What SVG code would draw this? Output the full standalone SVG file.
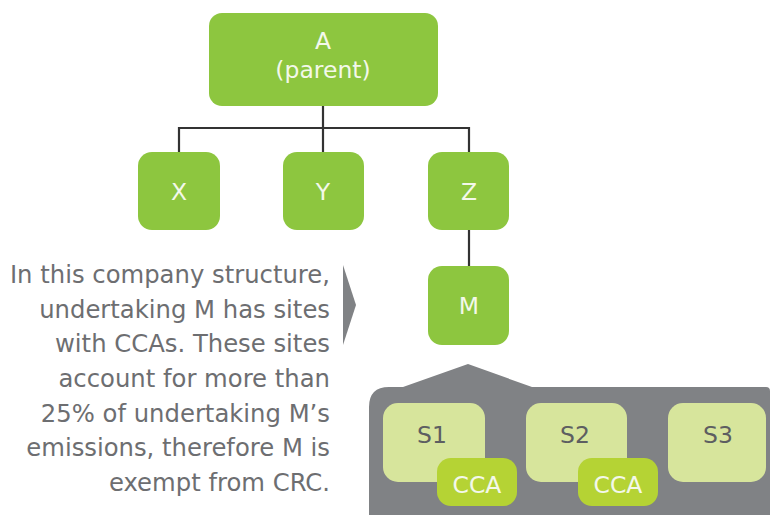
<svg xmlns="http://www.w3.org/2000/svg" width="770" height="515" viewBox="0 0 770 515">
  <style>
    .node { fill: #8dc63f; }
    .site { fill: #d7e59c; }
    .cca { fill: #b5d334; }
    .lbl { font-family: "DejaVu Sans", "Liberation Sans", sans-serif; font-size: 23.5px; text-anchor: middle; fill: #f3f8ea; }
    .slbl { font-family: "DejaVu Sans", "Liberation Sans", sans-serif; font-size: 23.5px; text-anchor: middle; fill: #5d5e61; }
    .para { font-family: "DejaVu Sans", "Liberation Sans", sans-serif; font-size: 24.3px; text-anchor: end; fill: #6d6e71; }
    .conn { stroke: #333333; stroke-width: 2.2; fill: none; }
  </style>
  <rect width="770" height="515" fill="#ffffff"/>

  <g id="connectors">
    <path class="conn" d="M323 106 V128 M179 128 H469 M179 127 V152 M323 128 V152 M469 127 V152 M469 230 V266"/>
  </g>

  <g id="panel">
    <path d="M369 407 Q369 387 389 387 H403 L468 364 L532 387 H766 Q770 387 770 391 V515 H369 Z" fill="#808285"/>
  </g>

  <g id="node-A">
    <rect class="node" x="209" y="13" width="229" height="93" rx="13"/>
    <text class="lbl" x="323" y="49">A</text>
    <text class="lbl" x="323" y="78">(parent)</text>
  </g>
  <g id="node-X">
    <rect class="node" x="138" y="152" width="82" height="78" rx="14"/>
    <text class="lbl" x="179" y="200">X</text>
  </g>
  <g id="node-Y">
    <rect class="node" x="283" y="152" width="81" height="78" rx="14"/>
    <text class="lbl" x="323" y="200">Y</text>
  </g>
  <g id="node-Z">
    <rect class="node" x="428" y="152" width="81" height="78" rx="14"/>
    <text class="lbl" x="469" y="200">Z</text>
  </g>
  <g id="node-M">
    <rect class="node" x="428" y="266" width="81" height="79" rx="14"/>
    <text class="lbl" x="469" y="314">M</text>
  </g>

  <g id="site-S1">
    <rect class="site" x="383" y="403" width="102" height="79" rx="15"/>
    <text class="slbl" x="432" y="443">S1</text>
  </g>
  <g id="site-S2">
    <rect class="site" x="526" y="403" width="101" height="79" rx="15"/>
    <text class="slbl" x="575" y="443">S2</text>
  </g>
  <g id="site-S3">
    <rect class="site" x="668" y="403" width="98" height="79" rx="15"/>
    <text class="slbl" x="718" y="443">S3</text>
  </g>
  <g id="cca-1">
    <rect class="cca" x="437" y="458" width="80" height="48" rx="14"/>
    <text class="lbl" x="477" y="493">CCA</text>
  </g>
  <g id="cca-2">
    <rect class="cca" x="578" y="458" width="80" height="48" rx="14"/>
    <text class="lbl" x="618" y="493">CCA</text>
  </g>

  <g id="note">
    <text class="para" x="330" y="283">In this company structure,</text>
    <text class="para" x="330" y="318">undertaking M has sites</text>
    <text class="para" x="330" y="352">with CCAs. These sites</text>
    <text class="para" x="330" y="387">account for more than</text>
    <text class="para" x="330" y="422">25% of undertaking M’s</text>
    <text class="para" x="330" y="456">emissions, therefore M is</text>
    <text class="para" x="330" y="491">exempt from CRC.</text>
    <polygon points="343,265 356,305 343,345" fill="#808285"/>
  </g>
</svg>
